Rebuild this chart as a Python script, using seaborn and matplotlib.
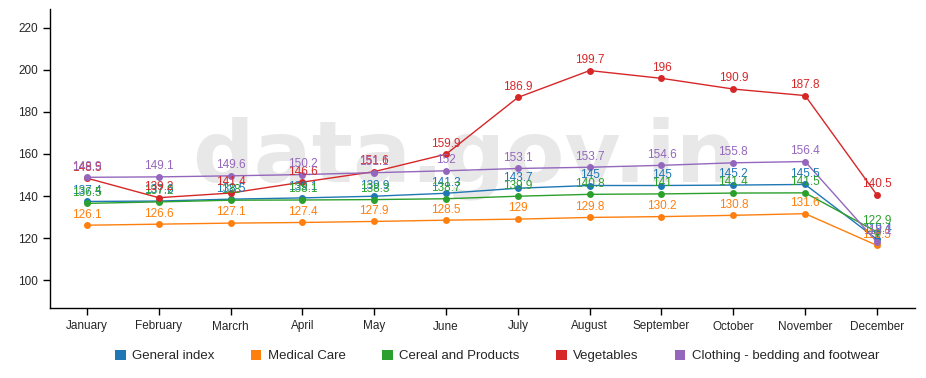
import numpy as np
import pandas as pd
import matplotlib
matplotlib.use('Agg')
import matplotlib.pyplot as plt
import seaborn as sns
from matplotlib.patches import Patch

months = ['January', 'February', 'Marcrh', 'April', 'May', 'June', 'July',
          'August', 'September', 'October', 'November', 'December']

general_index = [137.4, 137.6, 138.5, 139.1, 139.9, 141.3, 143.7, 145, 145, 145.2, 145.5, 119.4]
medical_care = [126.1, 126.6, 127.1, 127.4, 127.9, 128.5, 129, 129.8, 130.2, 130.8, 131.6, 116.5]
cereal_products = [136.5, 137.2, 138.0, 138.1, 138.3, 138.7, 139.9, 140.8, 141, 141.4, 141.5, 122.9]
vegetables = [148.5, 139.2, 141.4, 146.6, 151.6, 159.9, 186.9, 199.7, 196, 190.9, 187.8, 140.5]
clothing = [148.9, 149.1, 149.6, 150.2, 151.1, 152, 153.1, 153.7, 154.6, 155.8, 156.4, 118.1]

series_names = ['General index', 'Medical Care', 'Cereal and Products',
                'Vegetables', 'Clothing - bedding and footwear']
series_values = [general_index, medical_care, cereal_products, vegetables, clothing]
colors = ['#1f77b4', '#ff7f0e', '#2ca02c', '#d62728', '#9467bd']

rows = []
for name, vals in zip(series_names, series_values):
    for i, (m, v) in enumerate(zip(months, vals)):
        rows.append({'Month': m, 'pos': i, 'Series': name, 'Value': v})
df = pd.DataFrame(rows)

sns.set_style('white')
plt.rcParams['font.family'] = ['Liberation Sans', 'DejaVu Sans']

fig = plt.figure(figsize=(9.26, 3.78), dpi=100)
ax = fig.add_axes([50 / 926, 1 - 308 / 378, 865 / 926, 299 / 378])

# watermark
ax.text(5.26, 158, 'data.gov.in', fontsize=62, fontweight='bold', color='#e8e8e8',
        ha='center', va='center', zorder=0, family='DejaVu Sans')

palette = dict(zip(series_names, colors))
sns.lineplot(data=df, x='pos', y='Value', hue='Series', palette=palette,
             marker='o', markersize=5, markeredgewidth=0, linewidth=1,
             sort=False, legend=False, ax=ax, zorder=3)

for name, vals in zip(series_names, series_values):
    for i, v in enumerate(vals):
        ax.text(i, v + 2.2, f'{v:g}', color=palette[name], fontsize=8.5,
                ha='center', va='bottom', zorder=4)

ax.set_xlim(-0.515, 11.53)
ax.set_ylim(86.7, 229)
ax.set_xticks(range(len(months)))
ax.set_xticklabels(months, fontsize=8.5)
ax.set_yticks(range(100, 221, 20))
ax.tick_params(axis='y', labelsize=8.5, length=5, width=1, color='#000000', direction='out', left=True)
ax.tick_params(axis='x', length=5, width=1, color='#000000', direction='out', bottom=True, pad=4)
ax.set_xlabel('')
ax.set_ylabel('')
for side in ['top', 'right']:
    ax.spines[side].set_visible(False)
for side in ['left', 'bottom']:
    ax.spines[side].set_color('#000000')
    ax.spines[side].set_linewidth(1)

handles = [Patch(facecolor=c, edgecolor='none', label=n) for n, c in zip(series_names, colors)]
fig.legend(handles=handles, loc='center', bbox_to_anchor=(0.537, 1 - 356 / 378), ncol=5,
           frameon=False, fontsize=9.5, handlelength=0.8, handleheight=0.8,
           handletextpad=0.5, columnspacing=2.75)

fig.savefig('out.png', dpi=100)
